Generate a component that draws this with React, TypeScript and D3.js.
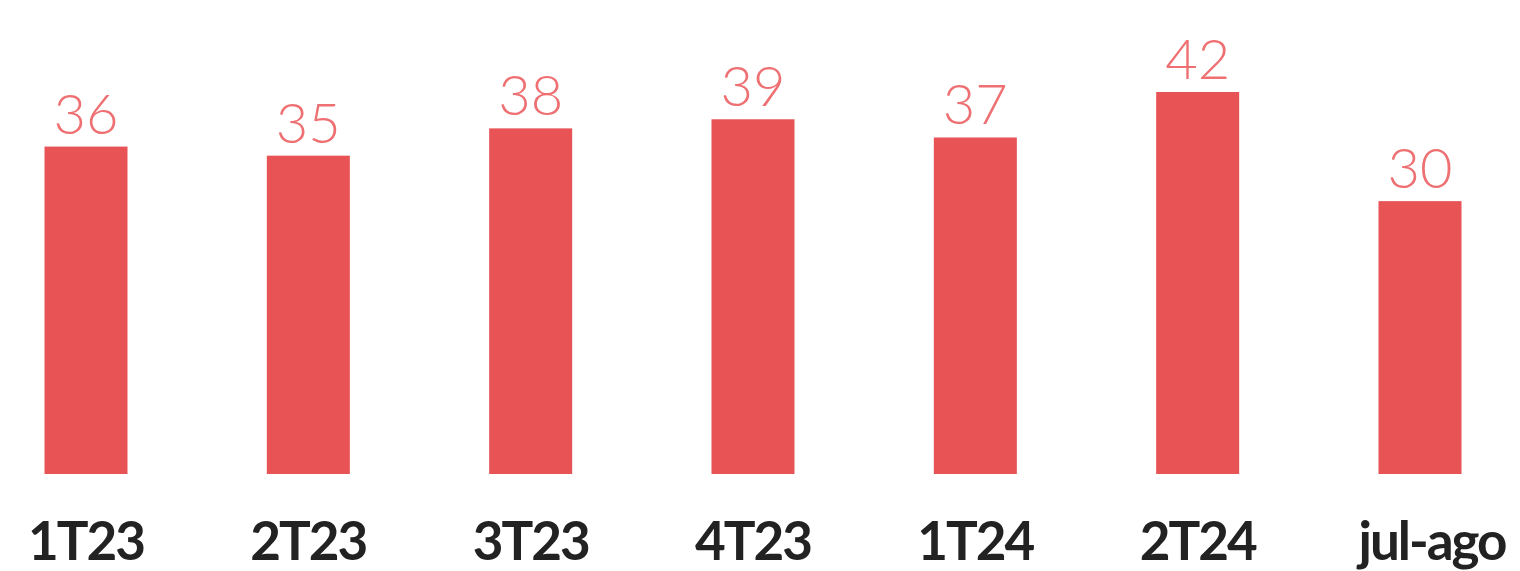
import React, { useEffect, useRef } from "react";
import * as d3 from "d3";

const categories = ["1T23", "2T23", "3T23", "4T23", "1T24", "2T24", "jul-ago"];
const values = [36, 35, 38, 39, 37, 42, 30];

const App = () => {
  const svgRef = useRef<SVGSVGElement>(null);

  useEffect(() => {
    if (!svgRef.current) return;
    d3.select(svgRef.current).selectAll("*").remove();

    const width = 1520;
    const height = 571;

    const svg = d3.select(svgRef.current)
      .attr("width", width)
      .attr("height", height);

    // centres of the bars
    const x = d3.scalePoint<string>()
      .domain(categories)
      .range([86, 1420]);
    const barWidth = 83;

    const y = d3.scaleLinear()
      .domain([0, 42])
      .range([474, 92]);

    svg.append("rect")
      .attr("width", width)
      .attr("height", height)
      .attr("fill", "#ffffff");

    svg.selectAll("rect.bar")
      .data(values)
      .enter()
      .append("rect")
      .attr("class", "bar")
      .attr("x", (d, i) => (x(categories[i]) as number) - barWidth / 2)
      .attr("y", d => y(d))
      .attr("width", barWidth)
      .attr("height", d => y(0) - y(d))
      .attr("fill", "#e85356");

    // value labels
    svg.selectAll("text.value")
      .data(values)
      .enter()
      .append("text")
      .attr("class", "value")
      .attr("x", (d, i) => x(categories[i]) as number)
      .attr("y", d => y(d) - 13)
      .attr("text-anchor", "middle")
      .attr("font-family", "Lato, sans-serif")
      .attr("font-weight", 300)
      .attr("font-size", 56)
      .attr("fill", "#ee7072")
      .text(d => d);

    // category labels
    svg.selectAll("text.cat")
      .data(categories)
      .enter()
      .append("text")
      .attr("class", "cat")
      .attr("x", d => (x(d) as number) + (d === "jul-ago" ? 12 : 0))
      .attr("y", 560)
      .attr("text-anchor", "middle")
      .attr("font-family", "Lato, sans-serif")
      .attr("font-weight", 700)
      .attr("font-size", 53)
      .attr("letter-spacing", -2)
      .attr("fill", "#222222")
      .text(d => d);
  }, []);

  return (
    <div style={{ position: "absolute", top: 0, left: 0 }}>
      <svg ref={svgRef} style={{ display: "block" }}></svg>
    </div>
  );
};

export default App;
